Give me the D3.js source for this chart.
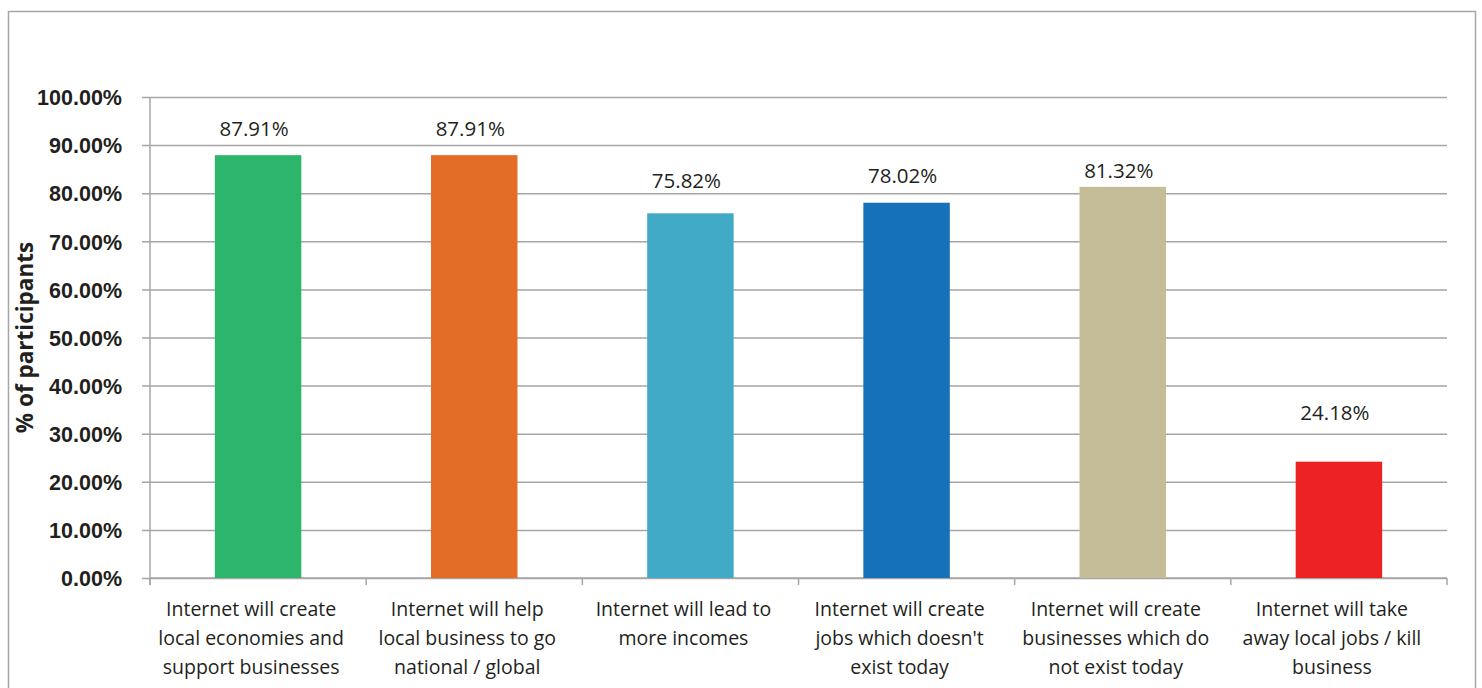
<!DOCTYPE html>
<html>
<head>
<meta charset="utf-8">
<script src="https://cdn.jsdelivr.net/npm/d3@7"></script>
<style>
  html, body { margin: 0; padding: 0; background: #fff; }
  svg { display: block; font-family: "Open Sans", Lato, sans-serif; }
</style>
</head>
<body>
<svg id="chart" width="1482" height="688"></svg>
<script>
// Survey responses: share of participants agreeing with each statement
const categories = [
  ["Internet will create", "local economies and", "support businesses"],
  ["Internet will help", "local business to go", "national / global"],
  ["Internet will lead to", "more incomes"],
  ["Internet will create", "jobs which doesn't", "exist today"],
  ["Internet will create", "businesses which do", "not exist today"],
  ["Internet will take", "away local jobs / kill", "business"]
];
const values = [87.91, 87.91, 75.82, 78.02, 81.32, 24.18];
const barColors = ["#2db56c", "#e36c26", "#41aac7", "#1571b9", "#c4bd98", "#ed2224"];
const yTicks = [0, 10, 20, 30, 40, 50, 60, 70, 80, 90, 100];
const yTitle = "% of participants";

// Layout
const svg = d3.select("#chart");
const plot = { left: 150, right: 1447, top: 97, bottom: 578 };
const gridColor = "#a6a6a6";
const inkColor = "#231f20";
// how far each value label's baseline sits above its bar
const labelLift = [19, 19, 25, 20, 9, 42];

// Outer frame
svg.append("rect")
  .attr("x", 8.5).attr("y", 11.5)
  .attr("width", 1467).attr("height", 700)
  .attr("fill", "none").attr("stroke", "#a6a6a6").attr("stroke-width", 1.5);

const x = d3.scaleBand()
  .domain(d3.range(values.length))
  .range([plot.left, plot.right])
  .paddingInner(0.6).paddingOuter(0.3);

const y = d3.scaleLinear().domain([0, 100]).range([plot.bottom, plot.top]);

// Horizontal gridlines with short ticks to the left of the axis
const yAxis = d3.axisLeft(y)
  .tickValues(yTicks)
  .tickSize(-(plot.right - plot.left))
  .tickSizeOuter(0)
  .tickPadding(28)
  .tickFormat(d => d3.format(".2f")(d) + "%");

const gy = svg.append("g")
  .attr("transform", `translate(${plot.left},0)`)
  .call(yAxis);
gy.select(".domain").remove();
gy.selectAll(".tick line")
  .attr("x1", -8)
  .attr("stroke", gridColor).attr("stroke-width", 1.5);
gy.selectAll(".tick text")
  .attr("font-size", 21.5).attr("font-weight", 600)
  .attr("fill", inkColor)
  .attr("dy", "0.36em");

// Vertical axis line
svg.append("line")
  .attr("x1", plot.left).attr("x2", plot.left)
  .attr("y1", plot.top).attr("y2", plot.bottom + 7)
  .attr("stroke", gridColor).attr("stroke-width", 1.5);

// Category axis with ticks at band boundaries
const boundaries = d3.range(values.length + 1).map(i =>
  i === 0 ? plot.left : i === values.length ? plot.right
    : (x(i - 1) + x.bandwidth() + x(i)) / 2);
const gx = svg.append("g");
gx.append("line")
  .attr("x1", plot.left).attr("x2", plot.right)
  .attr("y1", plot.bottom).attr("y2", plot.bottom)
  .attr("stroke", gridColor).attr("stroke-width", 1.5);
gx.selectAll("line.tick").data(boundaries).join("line")
  .attr("class", "tick")
  .attr("x1", d => d).attr("x2", d => d)
  .attr("y1", plot.bottom).attr("y2", plot.bottom + 7)
  .attr("stroke", gridColor).attr("stroke-width", 1.5);

// Bars
svg.append("g").selectAll("rect").data(values).join("rect")
  .attr("x", (d, i) => x(i))
  .attr("y", d => y(d))
  .attr("width", x.bandwidth())
  .attr("height", d => y(0) - y(d))
  .attr("fill", (d, i) => barColors[i]);

// Value labels
svg.append("g").selectAll("text").data(values).join("text")
  .attr("x", (d, i) => x(i) + x.bandwidth() / 2 - 4)
  .attr("y", (d, i) => y(d) - labelLift[i])
  .attr("text-anchor", "middle")
  .attr("font-size", 20.5)
  .attr("fill", inkColor)
  .text(d => d3.format(".2f")(d) + "%");

// Category labels (wrapped lines)
const cat = svg.append("g").selectAll("text").data(categories).join("text")
  .attr("text-anchor", "middle")
  .attr("font-size", 19.5)
  .attr("fill", inkColor)
  .attr("transform", (d, i) => `translate(${x(i) + x.bandwidth() / 2 - 7},${plot.bottom + 38})`);
cat.selectAll("tspan").data(d => d).join("tspan")
  .attr("x", 0)
  .attr("y", (d, j) => j * 29)
  .text(d => d);

// Y-axis title
svg.append("text")
  .attr("transform", `translate(33,${(plot.top + plot.bottom) / 2}) rotate(-90)`)
  .attr("text-anchor", "middle")
  .attr("font-size", 22.5).attr("font-weight", 700)
  .attr("fill", inkColor)
  .text(yTitle);
</script>
</body>
</html>
